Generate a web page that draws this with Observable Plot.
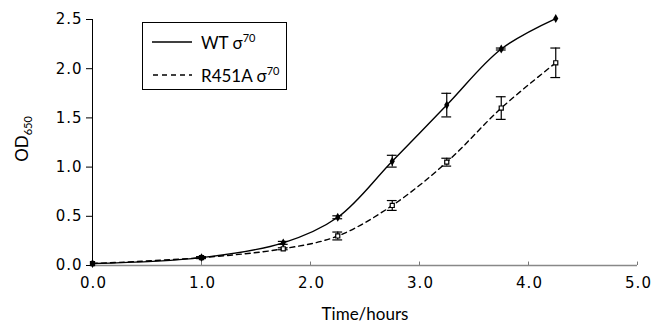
<!DOCTYPE html>
<html>
<head>
<meta charset="utf-8">
<script src="https://cdn.jsdelivr.net/npm/d3@7"></script>
<script src="https://cdn.jsdelivr.net/npm/@observablehq/plot@0.6"></script>
<style>
  html, body { margin: 0; padding: 0; background: #fff; }
  #wrap { position: relative; width: 663px; height: 326px; font-family: Lato, "Open Sans", sans-serif; color: #000; }
  #legend { position: absolute; left: 142px; top: 22px; width: 143px; height: 66px; border: 1.5px solid #000; background: #fff; font-size: 17px; }
  .row { position: absolute; left: 0; height: 20px; display: flex; align-items: center; }
  .row svg { margin-left: 9px; margin-right: 9px; }
  sup { font-size: 11px; vertical-align: 0; position: relative; top: -7px; }
  #ylab { position: absolute; left: 21px; top: 139px; transform: translate(-50%, -50%) rotate(-90deg); font-size: 17px; white-space: nowrap; }
  #ylab sub { font-size: 11px; vertical-align: 0; position: relative; top: 4px; }
  #xlab { position: absolute; left: 365px; top: 313px; transform: translate(-50%, -50%); font-size: 17px; white-space: nowrap; }
  #chart svg text { letter-spacing: 1px; }
</style>
</head>
<body>
<div id="wrap">
  <div id="chart"></div>
  <div id="legend">
    <div class="row" style="top:9px"><svg width="40" height="4"><line x1="0" y1="2" x2="40" y2="2" stroke="#000" stroke-width="1.5"/></svg><span>WT σ<sup>70</sup></span></div>
    <div class="row" style="top:42px"><svg width="40" height="4"><line x1="1" y1="2" x2="40" y2="2" stroke="#000" stroke-width="1.5" stroke-dasharray="5,4"/></svg><span>R451A σ<sup>70</sup></span></div>
  </div>
  <div id="ylab">OD<sub>650</sub></div>
  <div id="xlab">Time/hours</div>
</div>
<script>
const times = [0, 1.0, 1.75, 2.25, 2.75, 3.25, 3.75, 4.25];
const wtOD = [0.02, 0.08, 0.23, 0.49, 1.06, 1.63, 2.20, 2.51];
const wtErr = [0, 0.005, 0.015, 0.015, 0.06, 0.12, 0.01, 0];
const mutOD = [0.02, 0.08, 0.17, 0.30, 0.61, 1.05, 1.60, 2.06];
const mutErr = [0, 0.01, 0.01, 0.04, 0.05, 0.04, 0.115, 0.15];
const xTicks = [0, 1, 2, 3, 4, 5];
const yTicks = [0, 0.5, 1.0, 1.5, 2.0, 2.5];

const wt = times.map((t, i) => ({t, y: wtOD[i], e: wtErr[i]}));
const mut = times.map((t, i) => ({t, y: mutOD[i], e: mutErr[i]}));
const wtE = wt.filter(d => d.e > 0);
const mutE = mut.filter(d => d.e > 0);
const cap = 0.045;

const chart = Plot.plot({
  width: 663,
  height: 326,
  marginLeft: 92,
  marginRight: 26,
  marginTop: 19,
  marginBottom: 61,
  style: {fontFamily: "'DejaVu Sans', Verdana, sans-serif", fontSize: "15px", background: "white", overflow: "visible"},
  x: {domain: [0, 5]},
  y: {domain: [0, 2.5]},
  marks: [
    Plot.axisX(xTicks, {tickSize: 0, tickPadding: 12, tickFormat: d3.format(".1f"), label: null, dx: 1}),
    Plot.axisY(yTicks, {tickSize: 6, tickPadding: 4, tickFormat: d3.format(".1f"), label: null}),
    Plot.ruleX(xTicks.slice(1), {x: d => d, y1: 0, y2: 0.035, stroke: "#777"}),
    Plot.ruleY([0], {stroke: "#888", strokeWidth: 1.5}),
    Plot.ruleX([0], {stroke: "#000"}),
    Plot.line(wt, {x: "t", y: "y", curve: "catmull-rom", stroke: "#000", strokeWidth: 1.4}),
    Plot.line(mut, {x: "t", y: "y", curve: "catmull-rom", stroke: "#000", strokeWidth: 1.4, strokeDasharray: "5,4"}),
    Plot.ruleX(wtE, {x: "t", y1: d => d.y - d.e, y2: d => d.y + d.e, stroke: "#000", strokeWidth: 1.2}),
    Plot.ruleY(wtE, {y: d => d.y - d.e, x1: d => d.t - cap, x2: d => d.t + cap, stroke: "#000", strokeWidth: 1.2}),
    Plot.ruleY(wtE, {y: d => d.y + d.e, x1: d => d.t - cap, x2: d => d.t + cap, stroke: "#000", strokeWidth: 1.2}),
    Plot.ruleX(mutE, {x: "t", y1: d => d.y - d.e, y2: d => d.y + d.e, stroke: "#000", strokeWidth: 1.2}),
    Plot.ruleY(mutE, {y: d => d.y - d.e, x1: d => d.t - cap, x2: d => d.t + cap, stroke: "#000", strokeWidth: 1.2}),
    Plot.ruleY(mutE, {y: d => d.y + d.e, x1: d => d.t - cap, x2: d => d.t + cap, stroke: "#000", strokeWidth: 1.2}),
    Plot.dot(mut, {x: "t", y: "y", symbol: "square", r: 2.3, fill: "white", stroke: "#000", strokeWidth: 1.2}),
    Plot.dot(wt, {x: "t", y: "y", symbol: "diamond", r: 2.7, fill: "#000"})
  ]
});
document.getElementById("chart").appendChild(chart);
</script>
</body>
</html>
